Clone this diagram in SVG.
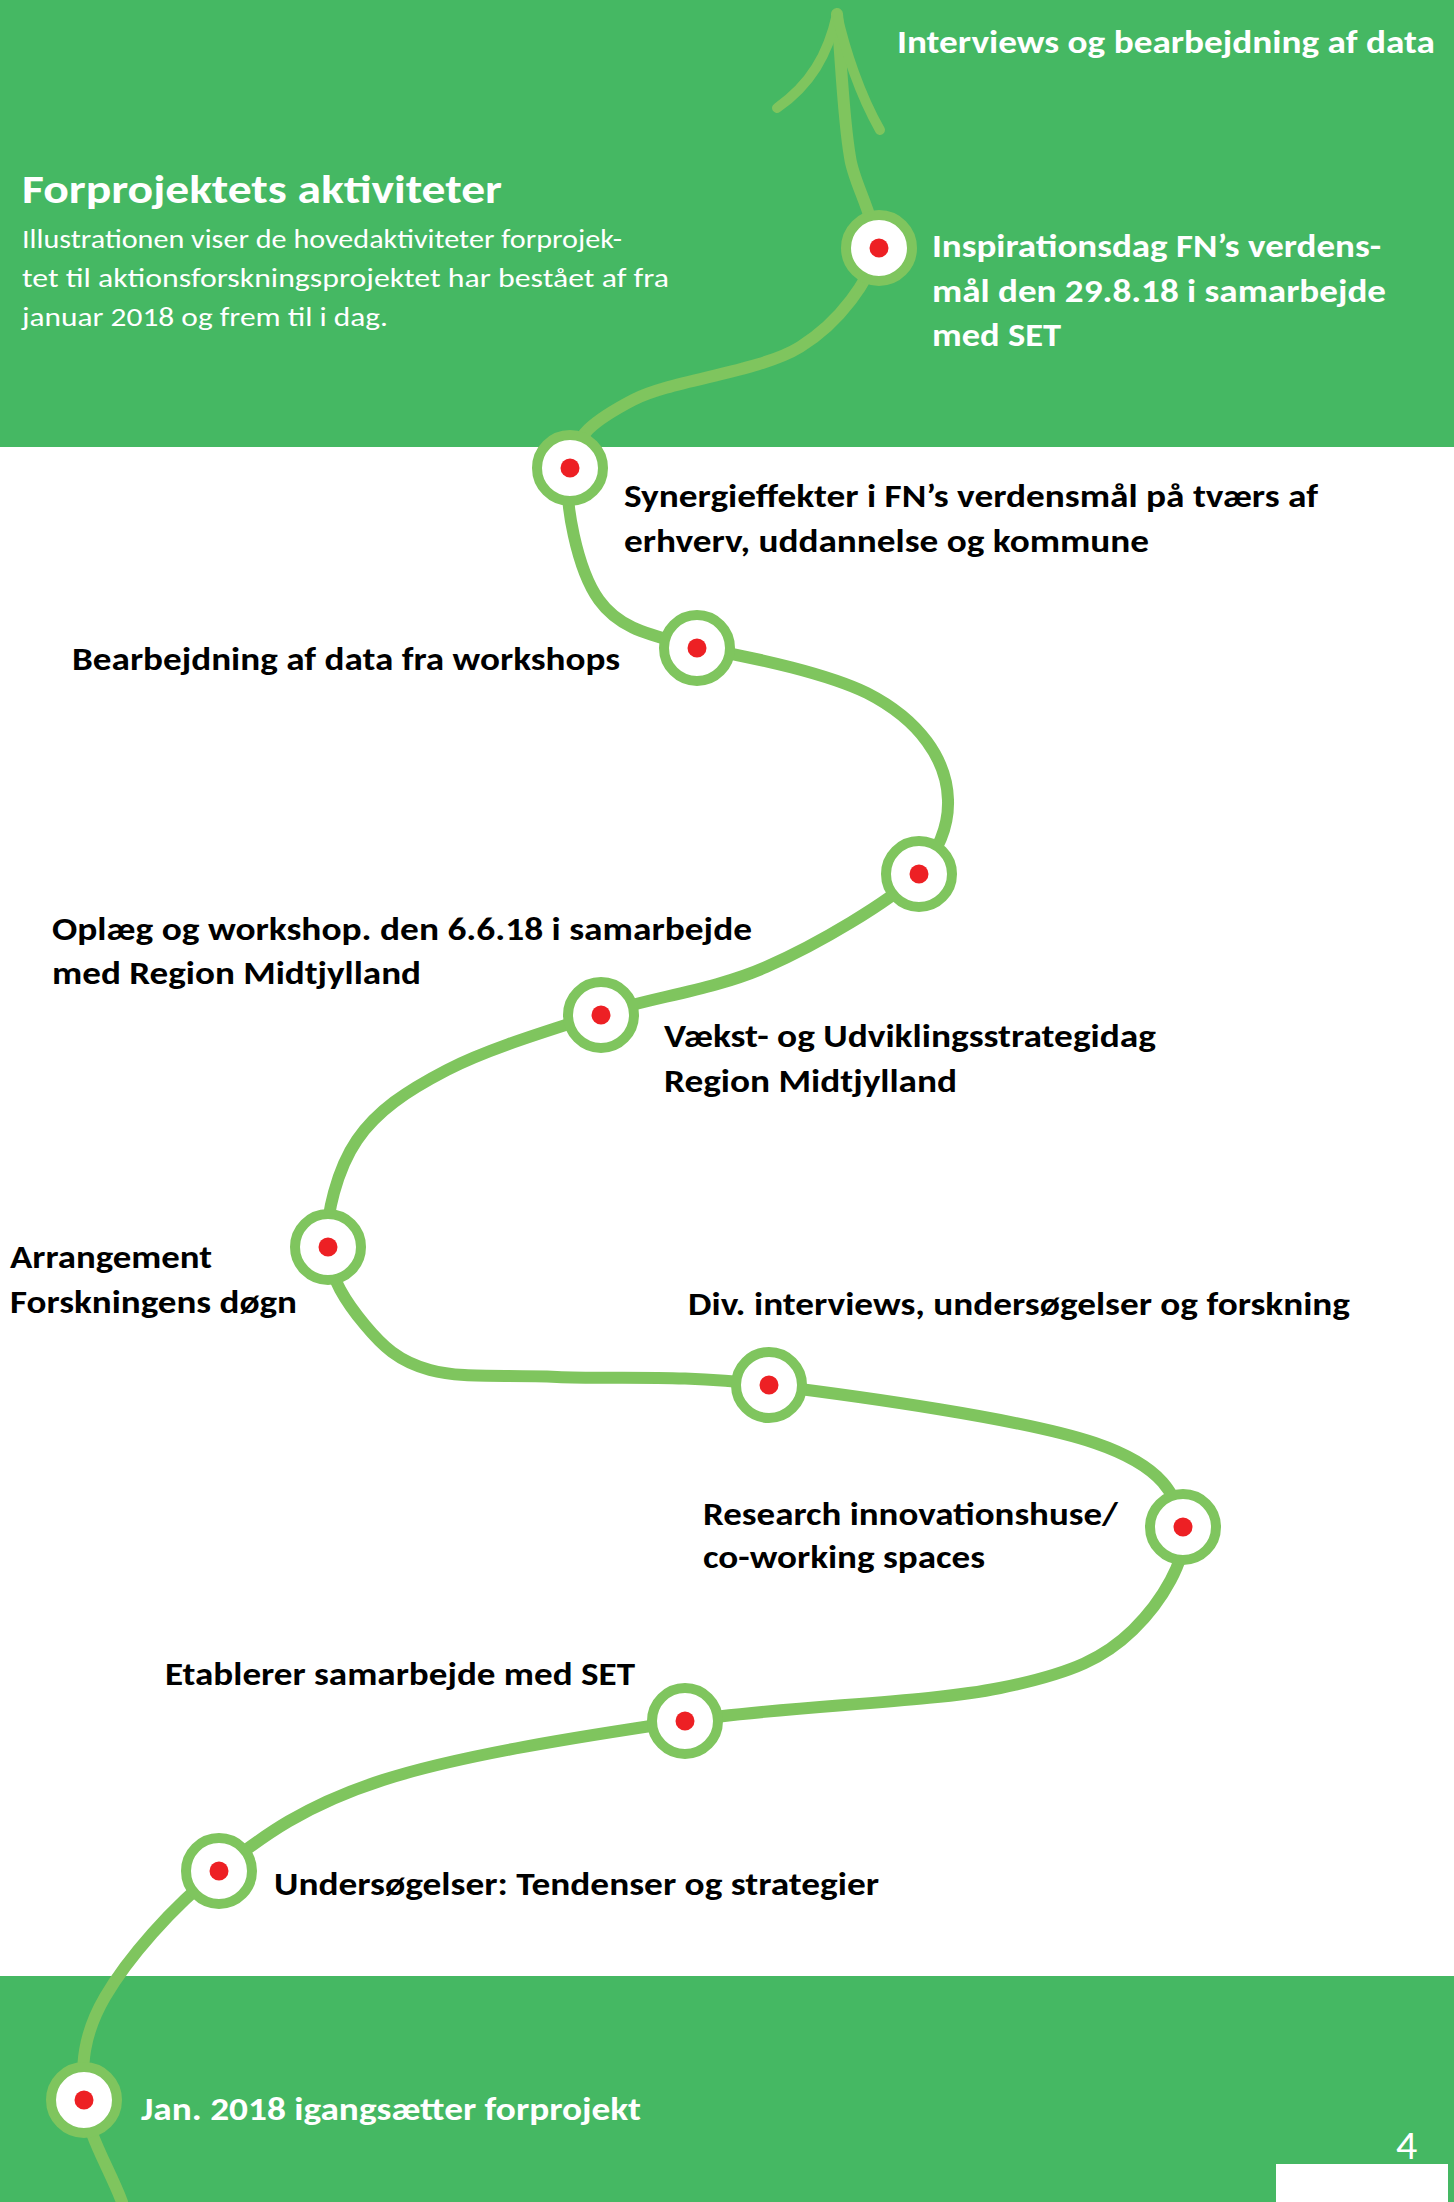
<svg xmlns="http://www.w3.org/2000/svg" width="1454" height="2202" viewBox="0 0 1454 2202">
<defs>
<style>
.band{fill:#45B863}
.road{fill:none;stroke:#7FC55E;stroke-width:12;stroke-linecap:round;stroke-linejoin:round}
.barb{fill:none;stroke:#7FC55E;stroke-width:10;stroke-linecap:round}
.ring{fill:#FFFFFF;stroke:#7FC55E;stroke-width:10}
.dot{fill:#ED2024}
.lbl{font-family:Carlito,"Liberation Sans",Arial,sans-serif;font-weight:bold;font-size:32px;fill:#000000}
.wl{font-family:Carlito,"Liberation Sans",Arial,sans-serif;font-weight:bold;font-size:32px;fill:#FFFFFF}
.title{font-family:Carlito,"Liberation Sans",Arial,sans-serif;font-weight:bold;font-size:40px;fill:#FFFFFF}
.body{font-family:Carlito,"Liberation Sans",Arial,sans-serif;font-size:27px;fill:#FFFFFF}
.pg{font-family:Carlito,"Liberation Sans",Arial,sans-serif;font-size:42px;fill:#FFFFFF}
</style>
</defs>
<rect width="1454" height="2202" fill="#FFFFFF"/>
<rect class="band" x="0" y="0" width="1454" height="447"/>
<rect class="band" x="0" y="1976" width="1454" height="226"/>
<rect x="1276" y="2164" width="172" height="38" fill="#FFFFFF"/>

<g id="connectors">
<path class="road" d="M122 2202 C109.3 2168 86.8 2134.2 84 2100 C81.2 2065.8 82.7 2035.2 105 1997 C127.3 1958.8 171.7 1907.2 218 1871 C264.3 1834.8 305.3 1805 383 1780 C460.7 1755 581.2 1736.3 684 1721 C786.8 1705.7 925.2 1703.2 1000 1688 C1074.8 1672.8 1105.5 1656.8 1133 1630 C1160.5 1603.2 1189.3 1558.2 1183 1527 C1176.7 1495.8 1164.2 1466.7 1095 1443 C1025.8 1419.3 857.7 1396 768 1385 C678.3 1374 613.3 1379.5 557 1377 C500.7 1374.5 462 1378.7 430 1370 C398 1361.3 382.2 1345.7 365 1325 C347.8 1304.3 328.3 1276.8 327 1246 C325.7 1215.2 337 1169.3 357 1140 C377 1110.7 406.5 1091 447 1070 C487.5 1049 546.8 1031.2 600 1014 C653.2 996.8 712.8 990.3 766 967 C819.2 943.7 888.2 902.3 919 874 C935 855 949 830 948 800 C947 760 920 720 867 693 C830 675 760 658 698 648 C651.5 634.7 620.5 630 599 600 C577.5 570 563.3 501.3 569 468 C574.7 434.7 594.5 420.2 633 400 C671.5 379.8 759.2 372.3 800 347 C840.8 321.7 869.7 279.7 878 248 C871.2 208.8 853 181 850 157 C843.2 117.8 841.3 61 837 14"/>
<path class="barb" d="M837 14 C828 55 810 85 777 108"/>
<path class="barb" d="M837 14 C845 50 860 95 880 130"/>
</g>

<g id="intro">
<text class="title" x="22" y="203" textLength="480" lengthAdjust="spacingAndGlyphs">Forprojektets aktiviteter</text>
<text class="body" x="22" y="248" textLength="600" lengthAdjust="spacingAndGlyphs">Illustrationen viser de hovedaktiviteter forprojek-</text>
<text class="body" x="22" y="287" textLength="647" lengthAdjust="spacingAndGlyphs">tet til aktionsforskningsprojektet har bestået af fra</text>
<text class="body" x="22" y="326" textLength="366" lengthAdjust="spacingAndGlyphs">januar 2018 og frem til i dag.</text>
</g>

<g id="end">
<text class="wl" x="897" y="53" textLength="538" lengthAdjust="spacingAndGlyphs">Interviews og bearbejdning af data</text>
</g>

<g id="n1">
<circle class="ring" cx="879" cy="248" r="33"/><circle class="dot" cx="879" cy="248" r="9.5"/>
<text class="wl" x="932" y="257" textLength="449" lengthAdjust="spacingAndGlyphs">Inspirationsdag FN’s verdens-</text>
<text class="wl" x="932" y="302" textLength="454" lengthAdjust="spacingAndGlyphs">mål den 29.8.18 i samarbejde</text>
<text class="wl" x="932" y="346" textLength="129" lengthAdjust="spacingAndGlyphs">med SET</text>
</g>

<g id="n2">
<circle class="ring" cx="570" cy="468" r="33"/><circle class="dot" cx="570" cy="468" r="9.5"/>
<text class="lbl" x="624" y="507" textLength="694" lengthAdjust="spacingAndGlyphs">Synergieffekter i FN’s verdensmål på tværs af</text>
<text class="lbl" x="624" y="552" textLength="525" lengthAdjust="spacingAndGlyphs">erhverv, uddannelse og kommune</text>
</g>

<g id="n3">
<circle class="ring" cx="697" cy="648" r="33"/><circle class="dot" cx="697" cy="648" r="9.5"/>
<text class="lbl" x="72" y="670" textLength="548" lengthAdjust="spacingAndGlyphs">Bearbejdning af data fra workshops</text>
</g>

<g id="n4">
<circle class="ring" cx="919" cy="874" r="33"/><circle class="dot" cx="919" cy="874" r="9.5"/>
<text class="lbl" x="52" y="940" textLength="700" lengthAdjust="spacingAndGlyphs">Oplæg og workshop. den 6.6.18 i samarbejde</text>
<text class="lbl" x="52" y="984" textLength="369" lengthAdjust="spacingAndGlyphs">med Region Midtjylland</text>
</g>

<g id="n5">
<circle class="ring" cx="601" cy="1015" r="33"/><circle class="dot" cx="601" cy="1015" r="9.5"/>
<text class="lbl" x="664" y="1047" textLength="492" lengthAdjust="spacingAndGlyphs">Vækst- og Udviklingsstrategidag</text>
<text class="lbl" x="664" y="1092" textLength="293" lengthAdjust="spacingAndGlyphs">Region Midtjylland</text>
</g>

<g id="n6">
<circle class="ring" cx="328" cy="1247" r="33"/><circle class="dot" cx="328" cy="1247" r="9.5"/>
<text class="lbl" x="10" y="1268" textLength="202" lengthAdjust="spacingAndGlyphs">Arrangement</text>
<text class="lbl" x="10" y="1313" textLength="287" lengthAdjust="spacingAndGlyphs">Forskningens døgn</text>
</g>

<g id="n7">
<circle class="ring" cx="769" cy="1385" r="33"/><circle class="dot" cx="769" cy="1385" r="9.5"/>
<text class="lbl" x="688" y="1315" textLength="662" lengthAdjust="spacingAndGlyphs">Div. interviews, undersøgelser og forskning</text>
</g>

<g id="n8">
<circle class="ring" cx="1183" cy="1527" r="33"/><circle class="dot" cx="1183" cy="1527" r="9.5"/>
<text class="lbl" x="703" y="1525" textLength="415" lengthAdjust="spacingAndGlyphs">Research innovationshuse/</text>
<text class="lbl" x="703" y="1568" textLength="282" lengthAdjust="spacingAndGlyphs">co-working spaces</text>
</g>

<g id="n9">
<circle class="ring" cx="685" cy="1721" r="33"/><circle class="dot" cx="685" cy="1721" r="9.5"/>
<text class="lbl" x="165" y="1685" textLength="470" lengthAdjust="spacingAndGlyphs">Etablerer samarbejde med SET</text>
</g>

<g id="n10">
<circle class="ring" cx="219" cy="1871" r="33"/><circle class="dot" cx="219" cy="1871" r="9.5"/>
<text class="lbl" x="274" y="1895" textLength="605" lengthAdjust="spacingAndGlyphs">Undersøgelser: Tendenser og strategier</text>
</g>

<g id="n11">
<circle class="ring" cx="84" cy="2100" r="33"/><circle class="dot" cx="84" cy="2100" r="9.5"/>
<text class="wl" x="141" y="2120" textLength="500" lengthAdjust="spacingAndGlyphs">Jan. 2018 igangsætter forprojekt</text>
</g>

<text class="pg" x="1396" y="2159">4</text>
</svg>
